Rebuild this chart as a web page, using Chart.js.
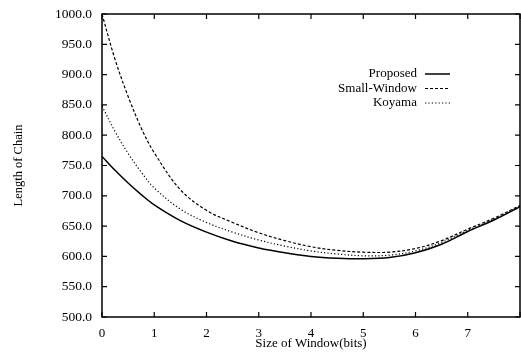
<!DOCTYPE html>
<html>
<head>
<meta charset="utf-8">
<script src="https://cdn.jsdelivr.net/npm/chart.js@4"></script>
<style>
  html, body { margin: 0; padding: 0; background: #fff; }
  canvas { display: block; }
</style>
</head>
<body>
<canvas id="chain-chart" width="521" height="356"></canvas>
<script>
// values
const windowSizes = [0, 0.25, 0.5, 0.75, 1, 1.5, 2, 2.5, 3, 3.5, 4, 4.5, 5, 5.5, 6, 6.5, 7, 7.5, 8];
const proposed    = [765, 742, 721, 702, 685, 659, 640, 625, 614, 606, 600, 597, 596, 598, 606, 620, 641, 660, 682];
const smallWindow = [1000, 925, 864, 812, 771, 710, 676, 656, 639, 626, 616, 610, 607, 607, 613, 626, 645, 663, 684];
const koyama      = [848, 806, 770, 739, 713, 678, 656, 640, 627, 617, 609, 604, 601, 602, 609, 623, 643, 661, 683];
const seriesNames = ["Proposed", "Small-Window", "Koyama"];
const yTicks = [500, 550, 600, 650, 700, 750, 800, 850, 900, 950, 1000];

const serif = "'Liberation Serif', 'DejaVu Serif', serif";

function points(values) {
  return values.map((v, i) => ({ x: windowSizes[i], y: v }));
}

// box with inward tick marks on all four sides
const frame = {
  id: 'frame',
  afterDraw(chart) {
    const ctx = chart.ctx;
    const a = chart.chartArea;
    const xs = chart.scales.x;
    const ys = chart.scales.y;
    ctx.save();
    ctx.strokeStyle = '#000';
    ctx.lineWidth = 1.5;
    ctx.strokeRect(a.left, a.top, a.right - a.left, a.bottom - a.top);
    ctx.lineWidth = 1.2;
    ctx.beginPath();
    yTicks.forEach((t) => {
      const py = ys.getPixelForValue(t);
      ctx.moveTo(a.left, py); ctx.lineTo(a.left + 5, py);
      ctx.moveTo(a.right, py); ctx.lineTo(a.right - 5, py);
    });
    for (let t = 0; t <= 8; t++) {
      const px = xs.getPixelForValue(t);
      ctx.moveTo(px, a.bottom); ctx.lineTo(px, a.bottom - 5);
      ctx.moveTo(px, a.top); ctx.lineTo(px, a.top + 5);
    }
    ctx.stroke();

    // legend: label then line sample
    ctx.font = '13px ' + serif;
    ctx.textAlign = 'right';
    ctx.textBaseline = 'middle';
    ctx.fillStyle = '#000';
    chart.data.datasets.forEach((ds, i) => {
      const y = 74 + i * 14.5;
      ctx.fillText(ds.label, 417, y);
      ctx.beginPath();
      ctx.setLineDash(ds.borderDash || []);
      ctx.lineWidth = ds.borderWidth;
      ctx.moveTo(425, y);
      ctx.lineTo(450, y);
      ctx.stroke();
    });
    ctx.restore();
  }
};

const ctx = document.getElementById('chain-chart').getContext('2d');

new Chart(ctx, {
  type: 'line',
  data: {
    datasets: [
      {
        label: seriesNames[0],
        data: points(proposed),
        borderColor: '#000',
        borderWidth: 1.5,
        pointRadius: 0,
        tension: 0.35
      },
      {
        label: seriesNames[1],
        data: points(smallWindow),
        borderColor: '#000',
        borderWidth: 1.2,
        borderDash: [3, 2],
        pointRadius: 0,
        tension: 0.35
      },
      {
        label: seriesNames[2],
        data: points(koyama),
        borderColor: '#000',
        borderWidth: 1.2,
        borderDash: [1.2, 2.2],
        pointRadius: 0,
        tension: 0.35
      }
    ]
  },
  options: {
    responsive: false,
    animation: false,
    layout: { padding: { top: 14, right: 1, left: 0, bottom: 0 } },
    plugins: {
      legend: { display: false },
      tooltip: { enabled: false }
    },
    scales: {
      x: {
        type: 'linear',
        min: 0,
        max: 8,
        grid: { display: false, drawTicks: false },
        border: { display: false },
        ticks: {
          stepSize: 1,
          padding: 9,
          color: '#000',
          font: { family: serif, size: 13 },
          callback: (v) => (v < 8 ? String(v) : '')
        },
        title: {
          display: true,
          text: 'Size of Window(bits)',
          color: '#000',
          font: { family: serif, size: 13 },
          padding: { top: 0, bottom: 5 }
        },
        afterFit: (scale) => {
          scale.height = 39;
          scale.paddingLeft = 0;
          scale.paddingRight = 0;
        }
      },
      y: {
        min: 500,
        max: 1000,
        grid: { display: false, drawTicks: false },
        border: { display: false },
        ticks: {
          stepSize: 50,
          padding: 10,
          color: '#000',
          font: { family: serif, size: 13.5 },
          callback: (v) => v.toFixed(1)
        },
        title: {
          display: true,
          text: 'Length of Chain',
          color: '#000',
          font: { family: serif, size: 12.5 },
          padding: { top: 11, bottom: 0 }
        },
        afterFit: (scale) => {
          scale.width = 102;
          scale.paddingTop = 0;
          scale.paddingBottom = 0;
        }
      }
    }
  },
  plugins: [frame]
});
</script>
</body>
</html>
